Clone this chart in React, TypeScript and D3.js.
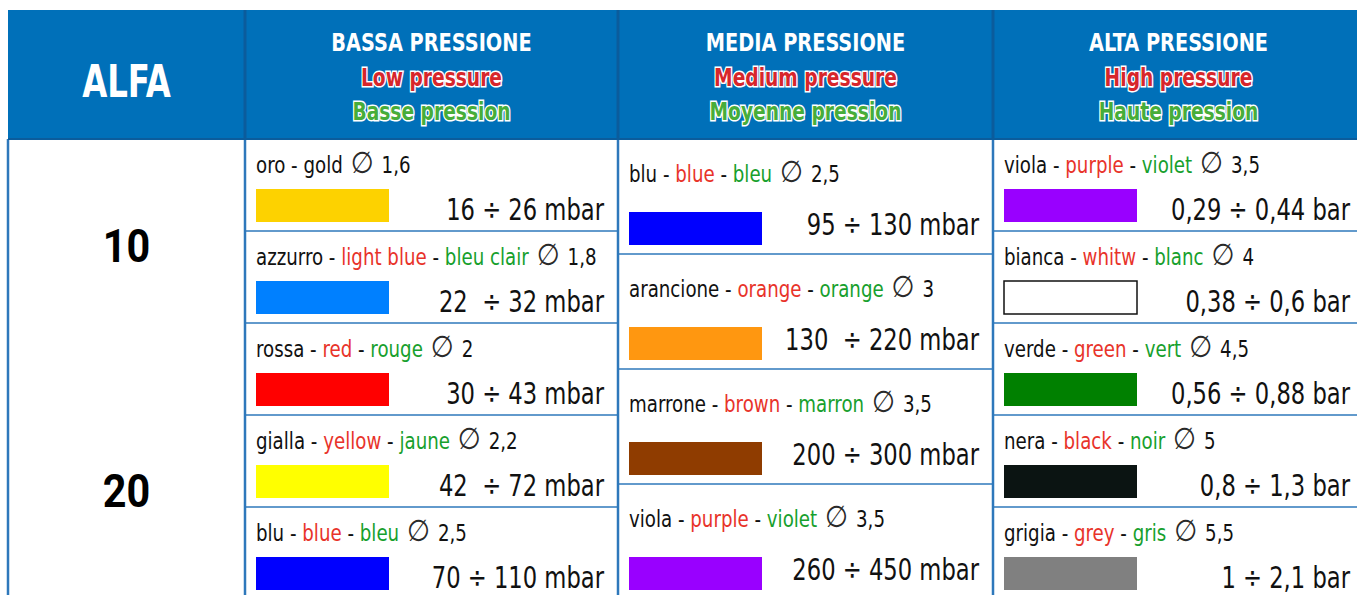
import React from "react";
import * as d3 from "d3";

// header data
const alfaTitle = "ALFA";
const nozzleSizes = ["10", "20"];
const groupIt = ["BASSA PRESSIONE", "MEDIA PRESSIONE", "ALTA PRESSIONE"];
const groupEn = ["Low pressure", "Medium pressure", "High pressure"];
const groupFr = ["Basse pression", "Moyenne pression", "Haute pression"];

// low pressure
const lowIt = ["oro", "azzurro", "rossa", "gialla", "blu"];
const lowEn = ["gold", "light blue", "red", "yellow", "blue"];
const lowFr = ["", "bleu clair", "rouge", "jaune", "bleu"];
const lowDiam = ["1,6", "1,8", "2", "2,2", "2,5"];
const lowColor = ["#fdd200", "#0080ff", "#ff0000", "#ffff00", "#0000ff"];
const lowRange = ["16 ÷ 26 mbar", "22  ÷ 32 mbar", "30 ÷ 43 mbar", "42  ÷ 72 mbar", "70 ÷ 110 mbar"];

// medium pressure
const midIt = ["blu", "arancione", "marrone", "viola"];
const midEn = ["blue", "orange", "brown", "purple"];
const midFr = ["bleu", "orange", "marron", "violet"];
const midDiam = ["2,5", "3", "3,5", "3,5"];
const midColor = ["#0000ff", "#ff9710", "#8f3c00", "#9900ff"];
const midRange = ["95 ÷ 130 mbar", "130  ÷ 220 mbar", "200 ÷ 300 mbar", "260 ÷ 450 mbar"];

// high pressure
const highIt = ["viola", "bianca", "verde", "nera", "grigia"];
const highEn = ["purple", "whitw", "green", "black", "grey"];
const highFr = ["violet", "blanc", "vert", "noir", "gris"];
const highDiam = ["3,5", "4", "4,5", "5", "5,5"];
const highColor = ["#9900ff", "#ffffff", "#008000", "#0b1412", "#808080"];
const highRange = ["0,29 ÷ 0,44 bar", "0,38 ÷ 0,6 bar", "0,56 ÷ 0,88 bar", "0,8 ÷ 1,3 bar", "1 ÷ 2,1 bar"];

type Item = { it: string; en: string; fr: string; diam: string; color: string; range: string };
const zip = (it: string[], en: string[], fr: string[], di: string[], co: string[], ra: string[]): Item[] =>
  it.map((d, i) => ({ it: d, en: en[i], fr: fr[i], diam: di[i], color: co[i], range: ra[i] }));

const groups: Item[][] = [
  zip(lowIt, lowEn, lowFr, lowDiam, lowColor, lowRange),
  zip(midIt, midEn, midFr, midDiam, midColor, midRange),
  zip(highIt, highEn, highFr, highDiam, highColor, highRange),
];

const W = 1357, H = 595;
const top = 10, headerBottom = 139, bottom = 599;
const colEdges = [8, 245, 618, 993, 1364];
const BLUE = "#0070b9";
const LINE = "#2e78bb";
const FONT = "'DejaVu Sans Condensed', 'DejaVu Sans', sans-serif";
const RED = "#e8332a";
const GREEN = "#17a02d";
const INK = "#111";

// squeezed text (the original uses a condensed face)
const at = (x: number, y: number, sx: number) => `translate(${x},${y}) scale(${sx},1)`;

export default function App() {
  const alfaY = d3.scaleBand<string>().domain(nozzleSizes).range([122, 612]);

  return (
    <div style={{ position: "absolute", left: 0, top: 0 }}>
      <svg width={W} height={H} style={{ display: "block", background: "#fff" }} fontFamily={FONT}>
        {/* header band */}
        <rect x={colEdges[0]} y={top} width={W - colEdges[0]} height={headerBottom - top} fill={BLUE} />
        <text transform={at((colEdges[0] + colEdges[1]) / 2, 97, 0.8)} textAnchor="middle" fill="#fff"
          fontWeight="bold" fontSize={45}>{alfaTitle}</text>
        {groupIt.map((g, i) => {
          const cx = (colEdges[i + 1] + colEdges[i + 2]) / 2;
          return (
            <g key={g} fontWeight="bold" textAnchor="middle" fontSize={25}>
              <text transform={at(cx, 51, 0.86)} fill="#fff">{g}</text>
              <text transform={at(cx, 86, 0.83)} fill="#d7262b" stroke="#fff" strokeWidth={3} paintOrder="stroke">{groupEn[i]}</text>
              <text transform={at(cx, 120, 0.83)} fill="#47ad3a" stroke="#fff" strokeWidth={3} paintOrder="stroke">{groupFr[i]}</text>
            </g>
          );
        })}
        {/* header dividers */}
        {colEdges.slice(1, 4).map((x) => (
          <line key={"hd" + x} x1={x} x2={x} y1={top} y2={headerBottom} stroke="#0b5c9c" strokeWidth={3} />
        ))}

        {/* nozzle size column */}
        {nozzleSizes.map((s) => (
          <text key={s} transform={at((colEdges[0] + colEdges[1]) / 2, alfaY(s)! + alfaY.bandwidth() / 2 + 17, 0.88)}
            textAnchor="middle" fontFamily="'Roboto', 'DejaVu Sans', sans-serif" fontWeight="bold" fontSize={47} fill="#000">{s}</text>
        ))}

        {/* pressure groups */}
        {groups.map((items, gi) => {
          const x0 = colEdges[gi + 1], x1 = colEdges[gi + 2];
          const y = d3.scaleBand<number>().domain(d3.range(items.length)).range([headerBottom, bottom]);
          const h = y.bandwidth();
          return (
            <g key={gi}>
              {items.map((d, i) => {
                const cy = y(i)!;
                return (
                  <g key={i}>
                    {i > 0 && <line x1={x0} x2={x1} y1={cy} y2={cy} stroke={LINE} strokeWidth={1.5} />}
                    <text transform={at(x0 + 11, cy + h * 0.37, 0.88)} fontSize={23} fill={INK}>
                      <tspan>{d.it} - </tspan>
                      <tspan fill={d.fr ? RED : INK}>{d.en}</tspan>
                      {d.fr && <tspan fill={INK}> - </tspan>}
                      {d.fr && <tspan fill={GREEN}>{d.fr}</tspan>}
                      <tspan fill="#2a2a2a" fontFamily="'DejaVu Sans', sans-serif" fontSize={30} dx={9}>∅</tspan>
                      <tspan fill={INK} dx={9}>{d.diam}</tspan>
                    </text>
                    <rect x={x0 + 11} y={cy + h - 42} width={133} height={33} fill={d.color}
                      stroke={d.color === "#ffffff" ? INK : "none"} strokeWidth={1.5} />
                    <text transform={at(x1 - 14, cy + h - 11 - (h - 92) * 0.35, 0.84)} textAnchor="end"
                      fontSize={30} fill={INK} style={{ whiteSpace: "pre" }}>{d.range}</text>
                  </g>
                );
              })}
            </g>
          );
        })}

        {/* body vertical borders */}
        {colEdges.slice(0, 4).map((x) => (
          <line key={"v" + x} x1={x} x2={x} y1={headerBottom} y2={bottom} stroke={LINE} strokeWidth={2.5} />
        ))}
        <line x1={colEdges[0]} x2={W} y1={headerBottom} y2={headerBottom} stroke="#0b5c9c" strokeWidth={2} />
      </svg>
    </div>
  );
}
